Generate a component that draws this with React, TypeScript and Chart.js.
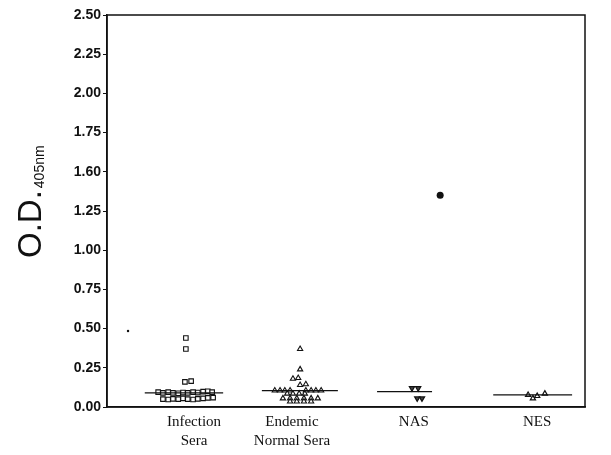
import React, { useEffect, useRef } from "react";
import { Chart, registerables } from "chart.js";

Chart.register(...registerables);

// ---- data ----
const categories = [["Infection", "Sera"], ["Endemic", "Normal Sera"], ["NAS"], ["NES"]];
const categoryPos = [1.82, 3.87, 6.42, 9.0];
const yTickLabels = ["0.00", "0.25", "0.50", "0.75", "1.00", "1.25", "1.60", "1.75", "2.00", "2.25", "2.50"];

const infectionX = [1.65, 1.65, 1.63, 1.76,
  1.07, 1.17, 1.28, 1.38, 1.49, 1.59, 1.69, 1.80, 1.90, 2.01, 2.11, 2.20,
  1.17, 1.28, 1.38, 1.49, 1.59, 1.69, 1.80, 1.90, 2.01, 2.11, 2.22];
const infectionY = [0.44, 0.37, 0.16, 0.165,
  0.095, 0.09, 0.095, 0.09, 0.088, 0.092, 0.09, 0.095, 0.092, 0.098, 0.1, 0.095,
  0.05, 0.048, 0.052, 0.05, 0.055, 0.05, 0.048, 0.052, 0.055, 0.058, 0.06];

const endemicX = [4.04, 4.04, 3.89, 4.0, 4.04, 4.16,
  3.51, 3.62, 3.72, 3.83, 4.16, 4.27, 4.37, 4.48,
  3.77, 3.89, 4.02, 4.14,
  3.68, 3.83, 3.97, 4.12, 4.27, 4.41,
  3.83, 3.97, 4.12, 4.27];
const endemicY = [0.37, 0.24, 0.18, 0.185, 0.14, 0.145,
  0.105, 0.105, 0.105, 0.105, 0.105, 0.105, 0.105, 0.105,
  0.085, 0.085, 0.085, 0.085,
  0.055, 0.055, 0.055, 0.055, 0.055, 0.055,
  0.035, 0.035, 0.035, 0.035];

const nasX = [6.38, 6.51, 6.49, 6.59];
const nasY = [0.12, 0.12, 0.055, 0.055];

const nesX = [8.81, 8.91, 9.0, 9.16];
const nesY = [0.077, 0.055, 0.07, 0.085];

const medianStart = [0.79, 3.24, 5.65, 8.08];
const medianEnd = [2.43, 4.83, 6.8, 9.73];
const medianValue = [0.09, 0.105, 0.098, 0.077];

const strayX = [0.44, 6.97];
const strayY = [0.485, 1.35];

const zip = (xs: number[], ys: number[]) => xs.map((x, i) => ({ x, y: ys[i] }));

const titlePlugin = {
  id: "odTitle",
  afterDraw(chart: any) {
    const ctx = chart.ctx;
    const area = chart.chartArea;
    ctx.save();
    ctx.strokeStyle = "#111";
    ctx.lineWidth = 1.5;
    ctx.strokeRect(area.left, area.top, area.right - area.left, area.bottom - area.top);
    ctx.fillStyle = "#111";
    ctx.translate(41, 258);
    ctx.rotate(-Math.PI / 2);
    ctx.textBaseline = "alphabetic";
    ctx.textAlign = "left";
    ctx.font = "33px 'Liberation Sans', Arial, sans-serif";
    ctx.fillText("O.D.", 0, 0);
    const w = ctx.measureText("O.D.").width;
    ctx.font = "14px 'Liberation Sans', Arial, sans-serif";
    ctx.fillText("405nm", w + 2, 3);
    ctx.restore();
  },
};

export default function App() {
  const ref = useRef<HTMLCanvasElement>(null);
  useEffect(() => {
    if (!ref.current) return;
    const black = "#111";
    const chart = new Chart(ref.current, {
      type: "scatter",
      data: {
        datasets: [
          ...medianValue.map((m, i) => ({
            type: "line" as const,
            data: [{ x: medianStart[i], y: m }, { x: medianEnd[i], y: m }],
            borderColor: black,
            borderWidth: 1.2,
            pointRadius: 0,
            showLine: true,
          })),
          {
            data: zip(infectionX, infectionY),
            pointStyle: "rect",
            pointRadius: 3.2,
            borderColor: black,
            borderWidth: 1.1,
            backgroundColor: "#fff",
          },
          {
            data: zip(endemicX, endemicY),
            pointStyle: "triangle",
            pointRadius: 3,
            borderColor: black,
            borderWidth: 1.1,
            backgroundColor: "#fff",
          },
          {
            data: zip(nasX, nasY),
            pointStyle: "triangle",
            rotation: 180,
            pointRadius: 3,
            borderColor: black,
            borderWidth: 1.2,
            backgroundColor: "#444",
          },
          {
            data: zip(nesX, nesY),
            pointStyle: "triangle",
            pointRadius: 3,
            borderColor: black,
            borderWidth: 1.2,
            backgroundColor: "#fff",
          },
          {
            data: zip(strayX, strayY),
            pointStyle: "circle",
            pointRadius: [1.2, 3.5] as any,
            borderWidth: 0,
            backgroundColor: black,
          },
        ],
      },
      options: {
        animation: false,
        responsive: false,
        layout: { padding: { left: 0, top: 15, right: 26, bottom: 0 } },
        plugins: { legend: { display: false }, tooltip: { enabled: false } },
        scales: {
          x: {
            type: "linear",
            min: 0,
            max: 10,
            afterBuildTicks: (scale: any) => {
              scale.ticks = categoryPos.map((v) => ({ value: v }));
            },
            afterFit: (scale: any) => {
              scale.height = 48;
            },
            grid: { display: false, drawTicks: false },
            border: { display: true, color: black, width: 1.5 },
            ticks: {
              padding: 6,
              color: black,
              font: { family: "'Liberation Serif', 'Times New Roman', serif", size: 15, lineHeight: 1.25 },
              callback: (_v: any, i: number) => categories[i],
              maxRotation: 0,
              autoSkip: false,
            },
          },
          y: {
            type: "linear",
            min: 0,
            max: 2.5,
            afterFit: (scale: any) => {
              scale.width = 107;
            },
            grid: { drawOnChartArea: false, drawTicks: true, tickLength: 4, color: black },
            border: { display: true, color: black, width: 1.5 },
            ticks: {
              stepSize: 0.25,
              padding: 2,
              color: black,
              font: { family: "'Liberation Sans', Arial, sans-serif", size: 14, weight: "bold" },
              callback: (_v: any, i: number) => yTickLabels[i],
            },
          },
        },
      },
      plugins: [titlePlugin],
    } as any);
    return () => chart.destroy();
  }, []);
  return (
    <div style={{ position: "absolute", left: 0, top: 0, width: 611, height: 455, background: "#fff" }}>
      <canvas ref={ref} width={611} height={455} />
    </div>
  );
}
